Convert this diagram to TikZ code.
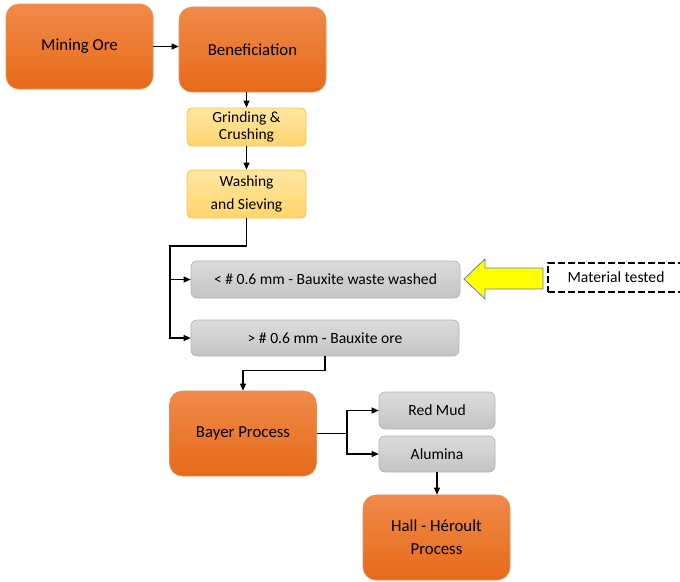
\documentclass[tikz,border=0pt]{standalone}
\usepackage{fontspec}
\setmainfont{Carlito}
\usetikzlibrary{arrows.meta}
\definecolor{orT}{HTML}{F08A4B}
\definecolor{orB}{HTML}{E66A18}
\definecolor{orD}{HTML}{EE8A50}
\definecolor{ylT}{HTML}{FFE6A2}
\definecolor{ylB}{HTML}{FFD56C}
\definecolor{ylD}{HTML}{FFC633}
\definecolor{grT}{HTML}{DCDCDC}
\definecolor{grB}{HTML}{C4C4C4}
\definecolor{grD}{HTML}{B2B2B2}
\definecolor{arrY}{HTML}{FFFF00}
\definecolor{arrD}{HTML}{5B7FC4}
\begin{document}
\begin{tikzpicture}[x=1pt,y=1pt,
  bigbox/.style={rounded corners=13pt, top color=orT, bottom color=orB, draw=orD, line width=0.6pt,
    minimum width=147pt, minimum height=85pt, inner sep=0pt, align=center,
    font=\fontsize{16.8}{23}\selectfont, text=black},
  yelbox/.style={rounded corners=5pt, top color=ylT, bottom color=ylB, draw=ylD, line width=0.8pt,
    minimum width=119pt, inner sep=0pt, align=center, font=\fontsize{15.5}{17}\selectfont},
  graybox/.style={rounded corners=6pt, top color=grT, bottom color=grB, draw=grD, line width=0.6pt,
    inner sep=0pt, align=center, font=\fontsize{15.6}{17}\selectfont},
  conn/.style={line width=1.1pt, black},
  arr/.style={conn, -{Triangle[length=7pt,width=6pt]}}
]
\useasboundingbox (0,0) rectangle (680,-581);

\node[bigbox] (mining) at (79.5,-46.5) {Mining Ore};
\node[bigbox] (benef) at (252.5,-49.5) {Beneficiation};
\node[yelbox, minimum height=38pt] (grind) at (246.5,-127) {Grinding \&\\Crushing};
\node[yelbox, minimum height=48pt, font=\fontsize{15.5}{23}\selectfont] (wash) at (246.5,-194) {Washing\\and Sieving};
\node[graybox, minimum width=269pt, minimum height=37pt] (waste) at (325.5,-279.5) {< \# 0.6 mm - Bauxite waste washed};
\node[graybox, minimum width=268pt, minimum height=36pt] (ore) at (325,-338) {> \# 0.6 mm - Bauxite ore};
\node[bigbox] (bayer) at (243,-433.5) {Bayer Process};
\node[graybox, minimum width=116pt, minimum height=37pt] (red) at (437,-410.5) {Red Mud};
\node[graybox, minimum width=116pt, minimum height=36pt] (alum) at (437,-454) {Alumina};
\node[bigbox, minimum height=85pt] (hall) at (436.5,-537.5) {Hall - Héroult\\Process};

\node[draw, dashed, dash pattern=on 7pt off 3pt, line width=2pt, minimum width=134pt, minimum height=29pt,
  inner sep=0pt, font=\fontsize{15.6}{17}\selectfont] (mat) at (615,-277.5) {\hspace{2pt}Material tested};

% yellow arrow
\draw[fill=arrY, draw=arrD, line width=0.8pt]
  (464,-279) -- (485,-259) -- (485,-268) -- (543,-268) -- (543,-289) -- (485,-289) -- (485,-299) -- cycle;

% connectors
\draw[arr] (mining.east) -- (mining.east -| benef.west);
\draw[arr] (grind.north |- benef.south) -- (grind.north);
\draw[arr] (grind.south) -- (wash.north);
\coordinate (j1) at (170,-246);
\draw[arr] (wash.south) |- (j1) |- (waste.west);
\draw[arr] (j1) |- (ore.west);
\draw[arr] (ore.south) -- ++(0,-14) -| (bayer.north);
\coordinate (j3) at (347,-433.5);
\draw[conn] (bayer.east) -- (j3);
\draw[arr] (j3) |- (red.west);
\draw[arr] (j3) |- (alum.west);
\draw[arr] (alum.south) -- (alum.south |- hall.north);
\end{tikzpicture}
\end{document}
